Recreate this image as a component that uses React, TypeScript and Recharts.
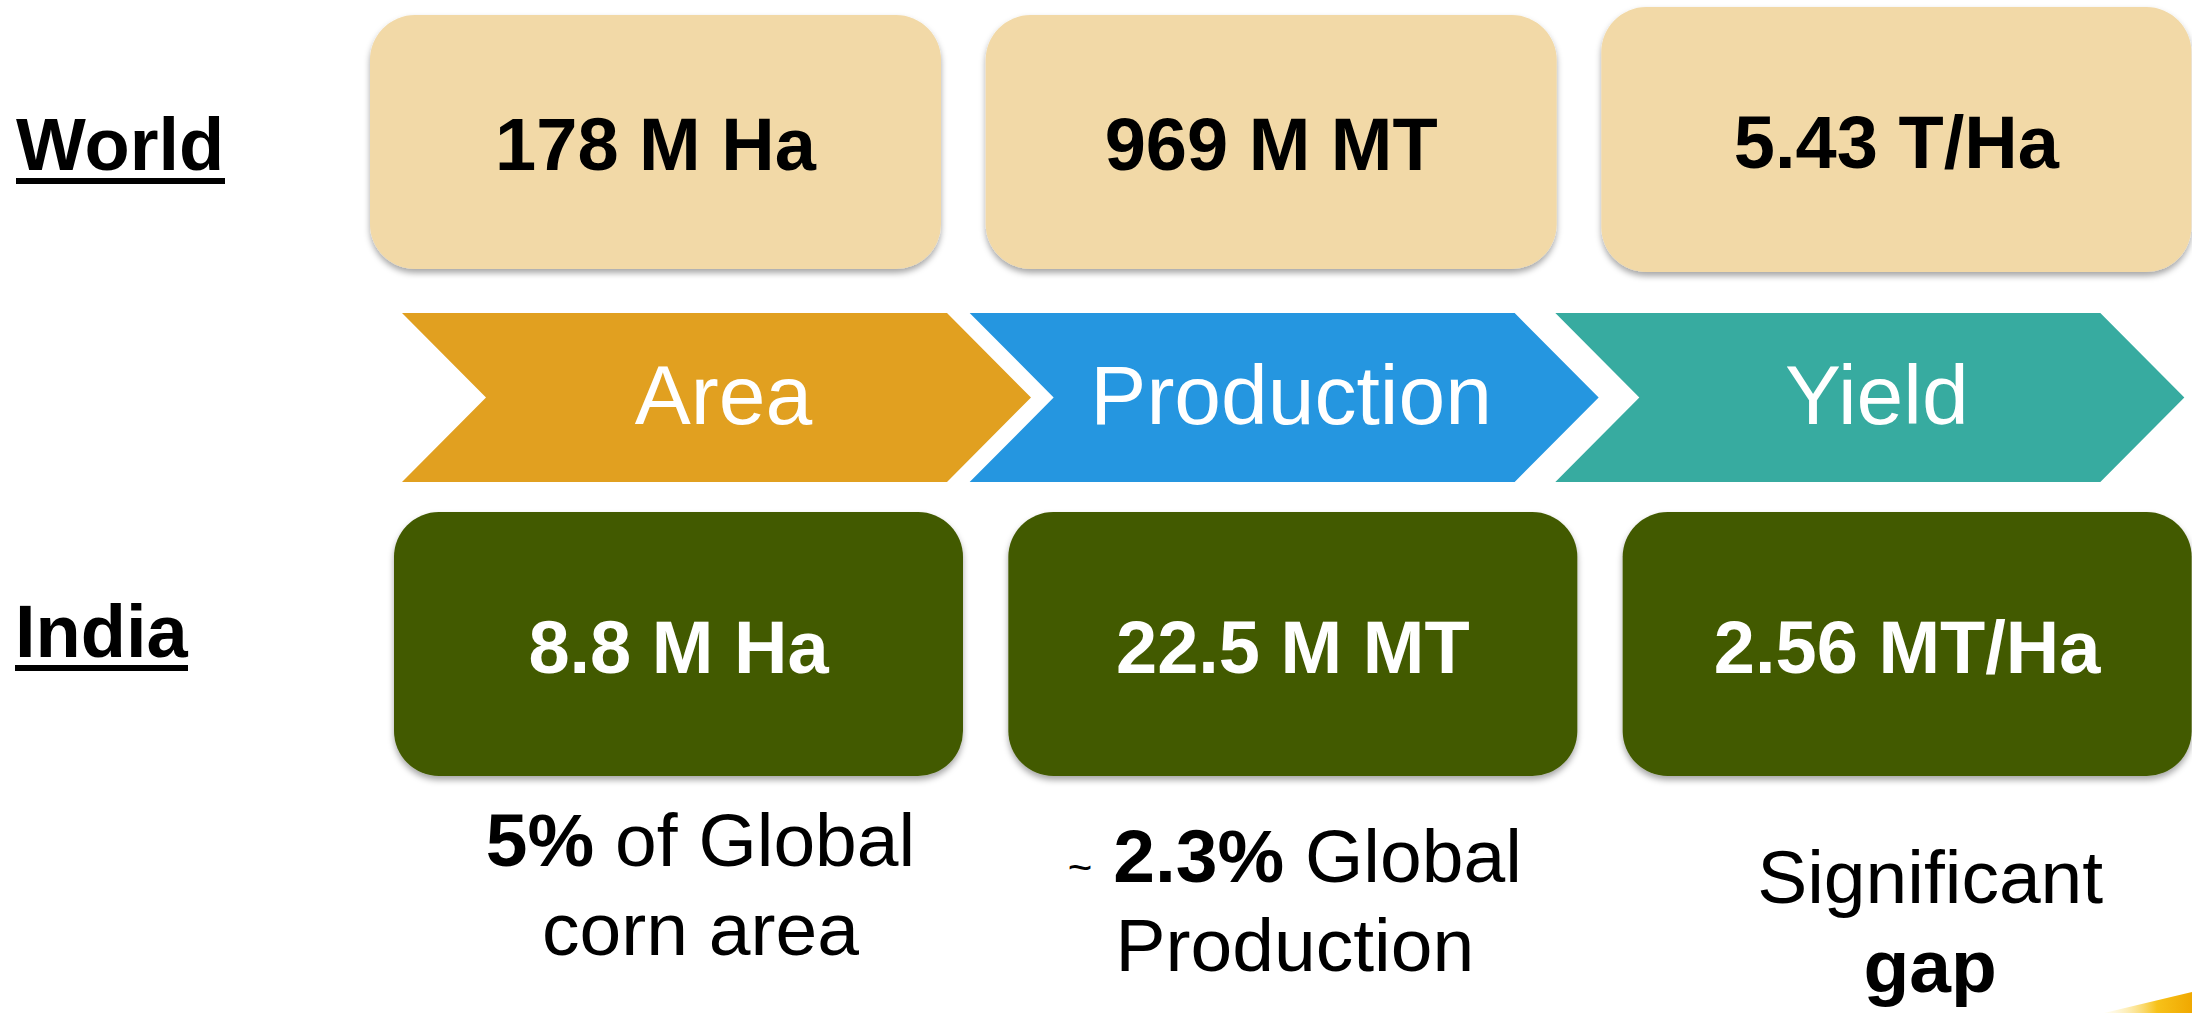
import { BarChart, Bar, XAxis, YAxis } from 'recharts';

// corn snapshot: world vs India, per stage
const stages = ['Area', 'Production', 'Yield'];
const worldValues = [178, 969, 5.43];
const worldUnits = ['M Ha', 'M MT', 'T/Ha'];
const indiaValues = [8.8, 22.5, 2.56];
const indiaUnits = ['M Ha', 'M MT', 'MT/Ha'];
const noteLead = ['', '~ ', ''];
const noteBold = ['5%', '2.3%', ''];
const noteRest = [' of Global', ' Global', 'Significant'];
const noteLine2 = ['corn area', 'Production', 'gap'];
const noteLine2Bold = [false, false, true];

const FONT = '"Liberation Sans", Arial, Helvetica, sans-serif';
const STAGE_COLORS = ['#E1A020', '#2596E0', '#37ABA0'];
const WORLD_FILL = '#F2D9A7';
const INDIA_FILL = '#425A06';
const ARROW_DEPTH = 84;
const CHEVRON_SHIFT = [0, -9, 0];
const NOTE_SHIFT = [22, 2, 23];
const NOTE_BASELINE = [866, 882, 903];
const NOTE_LINE_GAP = 89;

const data = stages.map((stage, i) => ({
  stage,
  world: worldValues[i],
  india: indiaValues[i],
}));

const WorldBox = (props: any) => {
  const { x, width, index } = props;
  const last = index === stages.length - 1;
  const top = last ? 7 : 15;
  const bottom = last ? 272 : 269;
  const w = last ? width + 19 : width;
  return (
    <g>
      {index === 0 && (
        <g>
          <defs>
            <filter id="boxShadow" x="-5%" y="-5%" width="110%" height="120%">
              <feDropShadow dx="0" dy="4" stdDeviation="3" floodColor="#000" floodOpacity="0.35" />
            </filter>
            <linearGradient id="swoosh" x1="0" y1="0" x2="1" y2="0">
              <stop offset="0%" stopColor="#FFF6C8" stopOpacity="0.2" />
              <stop offset="60%" stopColor="#F7C21A" />
              <stop offset="100%" stopColor="#F0A800" />
            </linearGradient>
          </defs>
          <text x={16} y={170} fontFamily={FONT} fontWeight="bold" fontSize={74} fill="#000">
            World
          </text>
          <rect x={16} y={178} width={209} height={6} fill="#000" />
        </g>
      )}
      <rect
        x={x}
        y={top}
        width={w}
        height={bottom - top}
        rx={45}
        ry={45}
        fill={WORLD_FILL}
        filter="url(#boxShadow)"
      />
      <text
        x={x + w / 2}
        y={last ? 168 : 170}
        textAnchor="middle"
        fontFamily={FONT}
        fontWeight="bold"
        fontSize={74}
        fill="#000"
      >
        {`${worldValues[index]} ${worldUnits[index]}`}
      </text>
    </g>
  );
};

const Chevron = (props: any) => {
  const { width, index } = props;
  const x = props.x + CHEVRON_SHIFT[index];
  const top = 313;
  const bottom = 482;
  const mid = (top + bottom) / 2;
  const d = ARROW_DEPTH;
  const pts = [
    [x, top],
    [x + width, top],
    [x + width + d, mid],
    [x + width, bottom],
    [x, bottom],
    [x + d, mid],
  ]
    .map((p) => p.join(','))
    .join(' ');
  return (
    <g>
      <polygon points={pts} fill={STAGE_COLORS[index]} />
      <text
        x={x + width / 2 + d / 2 + 7}
        y={424}
        textAnchor="middle"
        fontFamily={FONT}
        fontSize={84}
        fill="#fff"
      >
        {stages[index]}
      </text>
    </g>
  );
};

const IndiaBox = (props: any) => {
  const { x, width, index } = props;
  const top = 512;
  const bottom = 776;
  const cx = x + width / 2;
  const nx = cx + NOTE_SHIFT[index];
  const b1 = NOTE_BASELINE[index];
  return (
    <g>
      {index === 0 && (
        <g>
          <text x={15} y={657} fontFamily={FONT} fontWeight="bold" fontSize={74} fill="#000">
            India
          </text>
          <rect x={15} y={665} width={173} height={6} fill="#000" />
        </g>
      )}
      <rect
        x={x}
        y={top}
        width={width}
        height={bottom - top}
        rx={45}
        ry={45}
        fill={INDIA_FILL}
        filter="url(#boxShadow)"
      />
      <text
        x={cx}
        y={673}
        textAnchor="middle"
        fontFamily={FONT}
        fontWeight="bold"
        fontSize={74}
        fill="#fff"
      >
        {`${indiaValues[index]} ${indiaUnits[index]}`}
      </text>
      <text x={nx} y={b1} textAnchor="middle" fontFamily={FONT} fontSize={75} fill="#000">
        {noteLead[index] && <tspan fontSize={42}>{noteLead[index].trim()}</tspan>}
        {noteLead[index] && <tspan fontSize={75}> </tspan>}
        {noteBold[index] && <tspan fontWeight="bold">{noteBold[index]}</tspan>}
        <tspan>{noteRest[index]}</tspan>
      </text>
      <text
        x={nx}
        y={b1 + NOTE_LINE_GAP}
        textAnchor="middle"
        fontFamily={FONT}
        fontSize={75}
        fontWeight={noteLine2Bold[index] ? 'bold' : 'normal'}
        fill="#000"
      >
        {noteLine2[index]}
      </text>
      {index === stages.length - 1 && (
        <path d="M2104,1013 Q2150,1002 2192,992 L2192,1013 Z" fill="url(#swoosh)" />
      )}
    </g>
  );
};

export default function App() {
  return (
    <div
      style={{
        position: 'fixed',
        left: 0,
        top: 0,
        width: 2192,
        height: 1013,
        overflow: 'hidden',
        background: '#fff',
      }}
    >
      <BarChart width={2300} height={1013} data={data} margin={{ top: 0, right: 0, bottom: 0, left: 0 }}>
        <XAxis xAxisId="world" dataKey="stage" hide padding={{ left: 348, right: 105 }} />
        <XAxis xAxisId="stage" dataKey="stage" hide padding={{ left: 386, right: 184 }} />
        <XAxis xAxisId="india" dataKey="stage" hide padding={{ left: 371, right: 86 }} />
        <YAxis hide domain={[0, 'auto']} />
        <Bar xAxisId="world" dataKey="world" barSize={571} shape={WorldBox} isAnimationActive={false} />
        <Bar xAxisId="stage" dataKey="world" barSize={545} shape={Chevron} isAnimationActive={false} />
        <Bar xAxisId="india" dataKey="india" barSize={569} shape={IndiaBox} isAnimationActive={false} />
      </BarChart>
    </div>
  );
}
